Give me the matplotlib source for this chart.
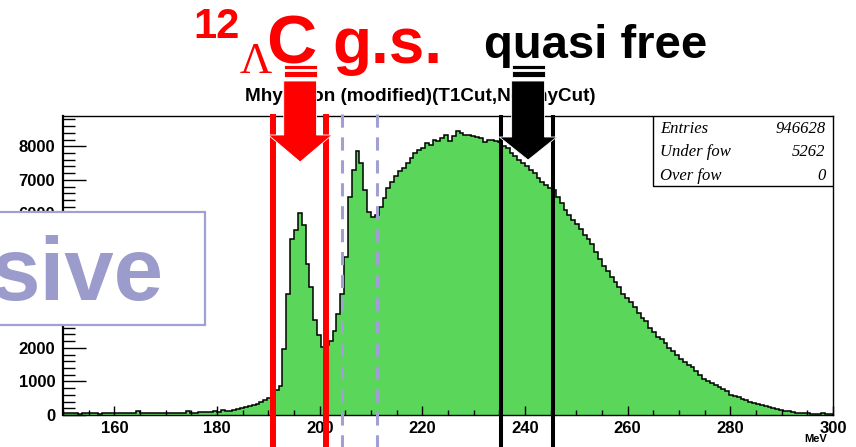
import numpy as np
import matplotlib
matplotlib.use("Agg")
import matplotlib.pyplot as plt
import matplotlib.transforms as mtrans
from matplotlib.patches import Polygon, Rectangle
from matplotlib.lines import Line2D
from matplotlib.ticker import MultipleLocator

plt.rcParams['font.family'] = ['Liberation Sans', 'DejaVu Sans']
plt.rcParams['lines.scale_dashes'] = False

W, H = 856, 447

# missing-mass histogram, 200 bins between 150 and 300 MeV
edges = np.linspace(150, 300, 201)
counts = [
    60, 60, 60, 60, 20, 60, 60, 60, 60, 20,
    60, 60, 60, 60, 60, 60, 60, 60, 60, 110,
    60, 60, 60, 60, 60, 60, 60, 60, 60, 60,
    60, 60, 110, 60, 60, 90, 90, 100, 90, 120,
    100, 140, 120, 130, 150, 170, 200, 240, 270, 300,
    340, 400, 450, 500, 580, 740, 850, 1950, 3600, 5250,
    5500, 6000, 5650, 4500, 3800, 2830, 2380, 2030, 2080, 2200,
    2500, 3000, 3600, 4700, 6500, 7300, 7860, 7500, 6700, 6050,
    5900, 5950, 6200, 6450, 6750, 6950, 7100, 7250, 7350, 7500,
    7650, 7800, 7880, 7940, 8100, 8050, 8200, 8150, 8250, 8330,
    8150, 8300, 8450, 8380, 8330, 8330, 8300, 8270, 8240, 8130,
    8180, 8180, 8150, 8130, 8000, 7950, 7800, 7700, 7600, 7500,
    7420, 7300, 7200, 7050, 6950, 6850, 6750, 6700, 6500, 6300,
    6100, 5950, 5800, 5700, 5550, 5350, 5250, 5100, 4850, 4650,
    4450, 4300, 4100, 3950, 3800, 3600, 3480, 3350, 3200, 3030,
    2900, 2800, 2600, 2480, 2330, 2250, 2130, 2000, 1900, 1780,
    1680, 1580, 1500, 1420, 1300, 1200, 1060, 1000, 950, 880,
    830, 760, 700, 610, 570, 530, 480, 440, 400, 360,
    320, 290, 260, 240, 210, 180, 150, 130, 110, 90,
    70, 60, 50, 60, 30, 40, 30, 50, 30, 40,
]

title = "Mhyperon (modified)(T1Cut,NoAnyCut)"
stats_names = ["Entries", "Under fow", "Over fow"]
stats_values = ["946628", "5262", "0"]

gs_cut = [190.9, 201.2]       # red window lines (MeV)
qf_cut = [235.3, 245.5]       # black window lines (MeV)
dash_cut = [204.4, 211.2]     # lavender dashed lines (MeV)
gs_arrow_x = 196.2
qf_arrow_x = 240.6

green = '#5AD65A'
lav = '#A0A0D4'
red = '#FF0000'

fig = plt.figure(figsize=(W / 100, H / 100), dpi=100)
ax = fig.add_axes([63 / W, 32 / H, 770 / W, 299 / H])

ax.stairs(counts, edges, fill=True, color=green, lw=0)
ax.stairs(counts, edges, color='black', lw=1.1)
ax.set_xlim(150, 300)
ax.set_ylim(0, 8900)

ax.xaxis.set_major_locator(MultipleLocator(20))
ax.xaxis.set_minor_locator(MultipleLocator(5))
ax.yaxis.set_major_locator(MultipleLocator(1000))
ax.yaxis.set_minor_locator(MultipleLocator(200))
ax.tick_params(axis='y', which='major', direction='in', length=16.5, width=1, pad=5.5, labelsize=12)
ax.tick_params(axis='y', which='minor', direction='in', length=8.5, width=1)
ax.tick_params(axis='x', which='major', direction='in', length=6.5, width=1, pad=4, labelsize=12)
ax.tick_params(axis='x', which='minor', direction='in', length=3.5, width=1)
for lab in ax.get_xticklabels() + ax.get_yticklabels():
    lab.set_fontweight('bold')
for s in ax.spines.values():
    s.set_linewidth(1)
ax.spines['left'].set_linewidth(1.6)

fig.text(827 / W, 1 - 442 / H, "MeV", fontsize=8, fontweight='bold', ha='right', va='baseline')

# stats box
ax.add_patch(Rectangle((0.766, 0.766), 0.234, 0.234, transform=ax.transAxes,
                       facecolor='white', edgecolor='black', lw=1, zorder=5))
for k, (nm, val) in enumerate(zip(stats_names, stats_values)):
    yy = 0.955 - k * 0.077
    ax.text(0.775, yy, nm, transform=ax.transAxes, family='Liberation Serif',
            style='italic', fontsize=12, va='center', ha='left', zorder=6)
    ax.text(0.99, yy, val, transform=ax.transAxes, family='Liberation Serif',
            style='italic', fontsize=12, va='center', ha='right', zorder=6)

# vertical marker lines: x in MeV, y in axes fraction (extend below the frame)
tr = mtrans.blended_transform_factory(ax.transData, ax.transAxes)
for x in gs_cut:
    ax.add_line(Line2D([x, x], [-0.12, 0.997], transform=tr, color=red, lw=4.3,
                       clip_on=False, zorder=7))
for x in qf_cut:
    ax.add_line(Line2D([x, x], [-0.12, 0.997], transform=tr, color='black', lw=2.9,
                       clip_on=False, zorder=7))
for x in dash_cut:
    ax.add_line(Line2D([x, x], [-0.12, 1.03], transform=tr, color=lav, lw=2.2,
                       dashes=(9.5, 7), clip_on=False, zorder=7))


def ay(ypx):
    return (415 - ypx) / 299


def block_arrow(xc, color, half_shaft, half_head, tip_y, head_y):
    parts = [
        [(xc - half_shaft, ay(65)), (xc + half_shaft, ay(65)), (xc + half_shaft, ay(69)), (xc - half_shaft, ay(69))],
        [(xc - half_shaft, ay(71)), (xc + half_shaft, ay(71)), (xc + half_shaft, ay(77)), (xc - half_shaft, ay(77))],
        [(xc - half_shaft, ay(81)), (xc + half_shaft, ay(81)), (xc + half_shaft, ay(head_y)),
         (xc + half_head, ay(head_y)), (xc, ay(tip_y)), (xc - half_head, ay(head_y)),
         (xc - half_shaft, ay(head_y))],
    ]
    for p in parts:
        fig.add_artist(Polygon(p, closed=True, transform=tr, facecolor=color,
                               edgecolor='white', lw=0.6, clip_on=False, zorder=8))


block_arrow(gs_arrow_x, red, 3.2, 6.2, 162, 135)
block_arrow(qf_arrow_x, 'black', 3.2, 5.6, 160, 137)

# title and labels
fig.text(420 / W, 1 - 101 / H, title, fontsize=13.6, fontweight='bold', ha='center', va='baseline', zorder=1)
fig.text(193 / W, 1 - 38 / H, "12", fontsize=30, fontweight='bold', color=red, va='baseline')
fig.text(240 / W, 1 - 73 / H, "Λ", fontsize=32, family='Liberation Serif', color=red, va='baseline')
fig.text(266 / W, 1 - 63 / H, "C", fontsize=50, fontweight='bold', color=red, va='baseline')
fig.text(332 / W, 1 - 63 / H, "g.s.", fontsize=46, fontweight='bold', color=red, va='baseline')
fig.text(484 / W, 1 - 58 / H, "quasi free", fontsize=34, fontweight='bold', color='black', va='baseline')

# partially visible text box on the left
fig.add_artist(Rectangle((-2 / W, 1 - 325 / H), 207 / W, 113 / H, transform=fig.transFigure,
                         facecolor='white', edgecolor=lav, lw=1.6, zorder=9))
fig.text(164 / W, 1 - 300 / H, "sive", fontsize=64, fontweight='bold', color='#9C9CCC',
         ha='right', va='baseline', zorder=10)

fig.savefig("out.png", dpi=100, facecolor='white')
